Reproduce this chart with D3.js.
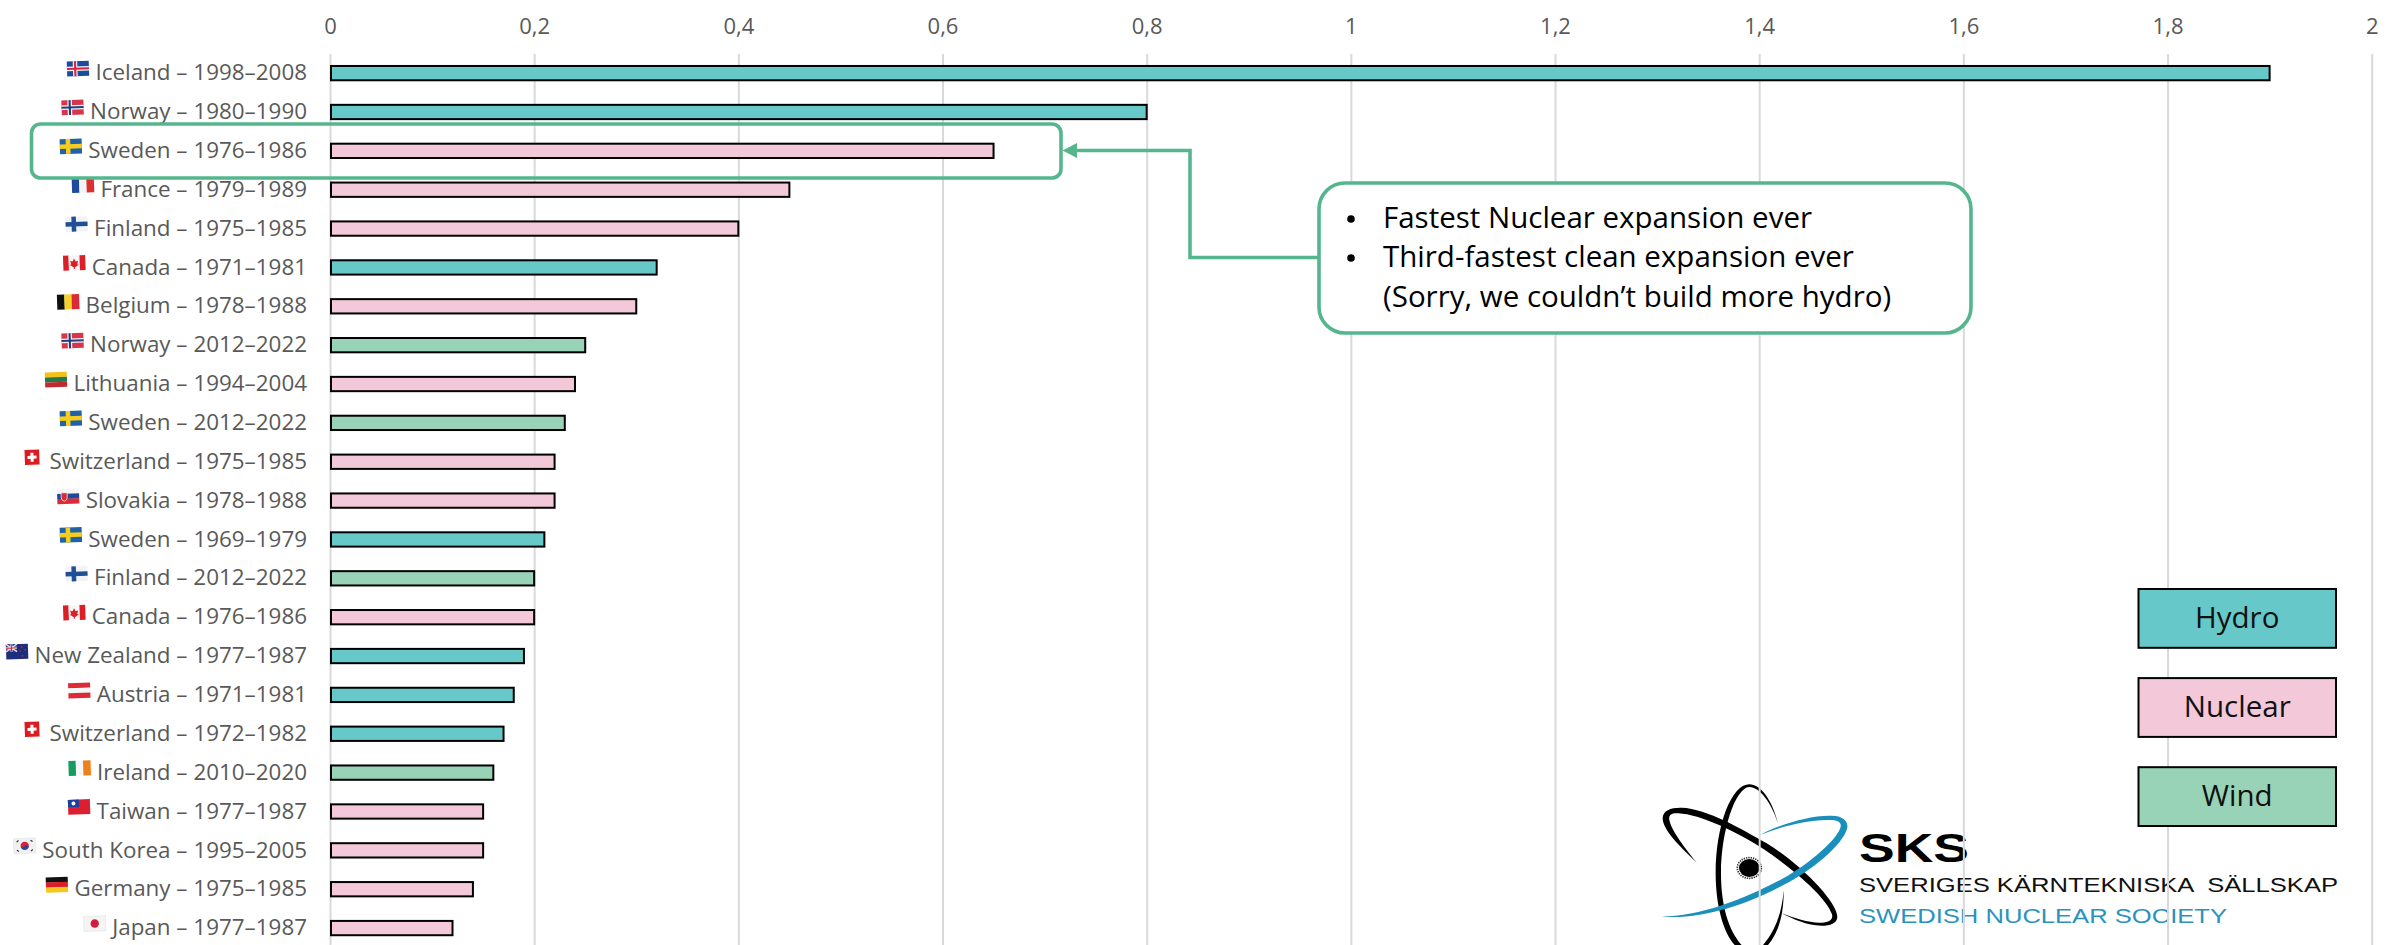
<!DOCTYPE html>
<html>
<head>
<meta charset="utf-8">
<script src="https://cdn.jsdelivr.net/npm/d3@7/dist/d3.min.js"></script>
<style>
  html, body { margin: 0; padding: 0; background: #fff; }
  svg { display: block; }
</style>
</head>
<body>
<div id="container"></div>
<script>
/* CONSTANTS AND DATA */
const countries = ["Iceland", "Norway", "Sweden", "France", "Finland", "Canada", "Belgium", "Norway",
  "Lithuania", "Sweden", "Switzerland", "Slovakia", "Sweden", "Finland", "Canada", "New Zealand",
  "Austria", "Switzerland", "Ireland", "Taiwan", "South Korea", "Germany", "Japan"];
const periods = ["1998–2008", "1980–1990", "1976–1986", "1979–1989", "1975–1985", "1971–1981", "1978–1988", "2012–2022",
  "1994–2004", "2012–2022", "1975–1985", "1978–1988", "1969–1979", "2012–2022", "1976–1986", "1977–1987",
  "1971–1981", "1972–1982", "2010–2020", "1977–1987", "1995–2005", "1975–1985", "1977–1987"];
const sources = ["Hydro", "Hydro", "Nuclear", "Nuclear", "Nuclear", "Hydro", "Nuclear", "Wind",
  "Nuclear", "Wind", "Nuclear", "Nuclear", "Hydro", "Wind", "Nuclear", "Hydro",
  "Hydro", "Hydro", "Wind", "Nuclear", "Nuclear", "Nuclear", "Nuclear"];
const values = [1.9, 0.8, 0.65, 0.45, 0.4, 0.32, 0.3, 0.25, 0.24, 0.23, 0.22, 0.22, 0.21, 0.2, 0.2, 0.19,
  0.18, 0.17, 0.16, 0.15, 0.15, 0.14, 0.12];
const xTicks = [0, 0.2, 0.4, 0.6, 0.8, 1, 1.2, 1.4, 1.6, 1.8, 2];
const legendNames = ["Hydro", "Nuclear", "Wind"];
const calloutLines = ["Fastest Nuclear expansion ever", "Third-fastest clean expansion ever", "(Sorry, we couldn’t build more hydro)"];

const W = 2405, H = 945;
const uiFont = "'Open Sans', sans-serif";
const logoFont = "'Liberation Sans', Arial, sans-serif";
const colors = { Hydro: "#66c8c8", Nuclear: "#f3c8d8", Wind: "#98d3b7" };
const accent = "#55b68d";

const rows = countries.map((c, i) => ({ key: i, country: c, period: periods[i], source: sources[i], value: values[i] }));

const svg = d3.select("#container").append("svg")
  .attr("width", W).attr("height", H)
  .style("background-color", "#fff");

// SCALES
const xScale = d3.scaleLinear().domain([0, 2]).range([330, 2371.7]);
const yScale = d3.scaleBand().domain(rows.map(d => d.key)).range([53.7, 947.5])
  .paddingInner(0.632).paddingOuter(0.316);

// LOGO (sits under the grid, the gridlines run across it in the picture)
const logo = svg.append("g").attr("class", "logo");
const mark = logo.append("g").attr("transform", "translate(1650,775) scale(0.3333)");
mark.append("path").attr("fill", "#000").attr("d",
  "M384,145 C365,70 330,28 298,28 C245,28 197,150 197,295 C197,400 225,490 265,520 L285,520 C240,480 213,400 213,295 C213,170 255,38 298,36 C330,36 365,85 384,145Z");
mark.append("path").attr("fill", "#000").attr("d",
  "M401,345 C396,420 370,480 330,520 L345,520 C385,480 402,420 401,345Z");
mark.append("path").attr("fill", "#000").attr("d",
  "M140,263 C90,215 38,165 38,130 C38,105 65,97 95,98 C170,100 280,165 350,205 C450,265 562,380 562,425 C562,445 540,452 515,452 C470,452 430,432 395,415 C435,430 480,445 515,443 C540,442 550,432 546,418 C530,370 440,290 345,225 C260,170 150,118 85,115 C65,113 55,120 58,135 C65,170 110,225 140,263Z");
mark.append("path").attr("fill", "#1a8fbc").attr("d",
  "M35,425 C150,425 290,370 400,310 C480,265 565,190 572,155 C575,140 560,135 540,135 C480,132 390,155 330,180 C390,148 480,120 545,122 C580,122 595,140 592,158 C580,210 480,290 400,330 C290,390 150,435 35,425Z");
mark.append("ellipse").attr("cx", 298).attr("cy", 279).attr("rx", 31).attr("ry", 27).attr("fill", "#000");
mark.append("ellipse").attr("cx", 298).attr("cy", 279).attr("rx", 36).attr("ry", 31)
  .attr("fill", "none").attr("stroke", "#333").attr("stroke-width", 5).attr("stroke-dasharray", "4 3");

logo.append("text").attr("x", 1859).attr("y", 862).attr("font-family", logoFont).attr("font-weight", 700)
  .attr("font-size", 40).attr("textLength", 110).attr("lengthAdjust", "spacingAndGlyphs").attr("fill", "#000").text("SKS");
logo.append("text").attr("x", 1859).attr("y", 892).attr("font-family", logoFont)
  .attr("font-size", 20).attr("textLength", 479).attr("lengthAdjust", "spacingAndGlyphs").attr("xml:space", "preserve").attr("fill", "#111")
  .text("SVERIGES KÄRNTEKNISKA  SÄLLSKAP");
logo.append("text").attr("x", 1859).attr("y", 923).attr("font-family", logoFont)
  .attr("font-size", 20).attr("textLength", 368).attr("lengthAdjust", "spacingAndGlyphs").attr("fill", "#2a93bd").text("SWEDISH NUCLEAR SOCIETY");

// AXES
const xAxis = svg.append("g").attr("class", "x-axis")
  .attr("transform", "translate(0,54)")
  .call(d3.axisTop(xScale).tickValues(xTicks).tickSize(-891).tickPadding(20)
    .tickFormat(d => String(d).replace(".", ",")));
xAxis.select(".domain").remove();
xAxis.selectAll("line").attr("stroke", "#d9d9d9").attr("stroke-width", 2);
xAxis.selectAll("text").attr("font-family", uiFont).attr("font-size", 22).attr("fill", "#595959");

const yAxis = svg.append("g").attr("class", "y-axis")
  .attr("transform", "translate(307,0)")
  .call(d3.axisLeft(yScale).tickSize(0).tickPadding(0)
    .tickFormat(i => `${countries[i]} – ${periods[i]}`));
yAxis.select(".domain").remove();
yAxis.selectAll("text").attr("font-family", uiFont).attr("font-size", 22.4).attr("fill", "#595959");

// BARS
svg.append("g").attr("class", "bars").selectAll("rect")
  .data(rows)
  .join("rect")
  .attr("x", xScale(0) + 1)
  .attr("y", d => yScale(d.key))
  .attr("width", d => xScale(d.value) - xScale(0) - 1)
  .attr("height", yScale.bandwidth())
  .attr("fill", d => colors[d.source])
  .attr("stroke", "#000")
  .attr("stroke-width", 2);

// FLAGS
function hStripes(g, cols, w = 22, h = 15) {
  cols.forEach((c, i) => g.append("rect").attr("y", i * h / cols.length).attr("width", w).attr("height", h / cols.length + 0.2).attr("fill", c));
}
function vStripes(g, cols, w = 22, h = 15) {
  cols.forEach((c, i) => g.append("rect").attr("x", i * w / cols.length).attr("width", w / cols.length + 0.2).attr("height", h).attr("fill", c));
}
function nordic(g, bg, outer, inner) {
  g.append("rect").attr("width", 22).attr("height", 15).attr("fill", bg);
  g.append("rect").attr("x", 6).attr("width", 4.5).attr("height", 15).attr("fill", outer);
  g.append("rect").attr("y", 5.2).attr("width", 22).attr("height", 4.5).attr("fill", outer);
  if (inner) {
    g.append("rect").attr("x", 7.2).attr("width", 2.1).attr("height", 15).attr("fill", inner);
    g.append("rect").attr("y", 6.4).attr("width", 22).attr("height", 2.1).attr("fill", inner);
  }
}
function disc(g, cx, cy, r, col) {
  g.append("circle").attr("cx", cx).attr("cy", cy).attr("r", r).attr("fill", col);
}
const flagDraw = {
  "Iceland": g => nordic(g, "#1c4a9c", "#f4f4f4", "#d8233a"),
  "Norway": g => nordic(g, "#d8344a", "#f4f4f4", "#1f3f7f"),
  "Sweden": g => nordic(g, "#1f62a8", "#f6cc1e"),
  "Finland": g => { nordic(g, "#f1f3f5", "#1f4f96"); },
  "France": g => vStripes(g, ["#1f4b9c", "#f4f4f4", "#dc3030"]),
  "Canada": g => {
    vStripes(g, ["#dc1f26", "#f6f6f6", "#f6f6f6", "#dc1f26"]);
    g.append("path").attr("fill", "#dc1f26").attr("d", "M11,3 L12.5,6 L15,5.5 L14,9 L15.5,9.5 L11.5,12 L11.5,13.5 L10.5,13.5 L10.5,12 L6.5,9.5 L8,9 L7,5.5 L9.5,6Z");
  },
  "Belgium": g => vStripes(g, ["#111", "#f6d32b", "#dc2a36"]),
  "Lithuania": g => hStripes(g, ["#f2c21c", "#1f7a4c", "#bf2a30"]),
  "Switzerland": g => {
    g.append("rect").attr("x", 3.7).attr("width", 14.6).attr("height", 15).attr("fill", "#dc1a20");
    g.append("rect").attr("x", 9.5).attr("y", 3).attr("width", 3).attr("height", 9).attr("fill", "#fff");
    g.append("rect").attr("x", 6.5).attr("y", 6).attr("width", 9).attr("height", 3).attr("fill", "#fff");
  },
  "Slovakia": g => {
    hStripes(g, ["#f4f4f4", "#1f4a9c", "#dc2a36"]);
    g.append("path").attr("fill", "#dc2a36").attr("stroke", "#fff").attr("stroke-width", 0.7).attr("d", "M4,4 H10 V9 Q10,11.5 7,12.5 Q4,11.5 4,9Z");
  },
  "New Zealand": g => {
    g.append("rect").attr("width", 22).attr("height", 15).attr("fill", "#1c2f7c");
    g.append("rect").attr("width", 11).attr("height", 7.5).attr("fill", "#2c3f8c");
    g.append("path").attr("stroke", "#f2d8dc").attr("stroke-width", 1.4).attr("d", "M0,0 L11,7.5 M11,0 L0,7.5");
    g.append("path").attr("stroke", "#f2f2f2").attr("stroke-width", 2).attr("d", "M5.5,0 V7.5 M0,3.75 H11");
    g.append("path").attr("stroke", "#d8233a").attr("stroke-width", 1).attr("d", "M5.5,0 V7.5 M0,3.75 H11");
    [[16, 3], [19, 6], [14, 7], [16, 12]].forEach(p => disc(g, p[0], p[1], 0.8, "#d8233a"));
  },
  "Austria": g => hStripes(g, ["#dc2a36", "#f6f6f6", "#dc2a36"]),
  "Ireland": g => vStripes(g, ["#169b62", "#f6f6f6", "#ee7f1c"]),
  "Taiwan": g => {
    g.append("rect").attr("width", 22).attr("height", 15).attr("fill", "#dc1f30");
    g.append("rect").attr("width", 11).attr("height", 7.5).attr("fill", "#1f3f9c");
    disc(g, 5.5, 3.75, 2, "#f6f6f6");
  },
  "South Korea": g => {
    g.append("rect").attr("width", 22).attr("height", 15).attr("fill", "#f1f1f1").attr("stroke", "#ddd").attr("stroke-width", 0.5);
    disc(g, 11, 7.5, 4.2, "#d8233a");
    g.append("path").attr("fill", "#1f4a9c").attr("d", "M7,8.2 A4.2,4.2 0 0 0 15,8.2 Q13,6 11,8 Q9,10 7,8.2Z");
    g.append("path").attr("stroke", "#333").attr("stroke-width", 1.2).attr("d", "M3,3.5 L5,2 M17,2 L19,3.5 M3,11.5 L5,13 M17,13 L19,11.5");
  },
  "Germany": g => hStripes(g, ["#111", "#dc1f26", "#f6c81e"]),
  "Japan": g => {
    g.append("rect").attr("width", 22).attr("height", 15).attr("fill", "#f4f4f4").attr("stroke", "#ddd").attr("stroke-width", 0.5);
    disc(g, 11, 7.5, 4.2, "#cc1f3c");
  }
};
yAxis.selectAll(".tick").each(function (i) {
  const t = d3.select(this).select("text");
  const len = t.node().getComputedTextLength();
  const g = d3.select(this).append("g").attr("class", "flag")
    .attr("transform", `translate(${-len - 6.5 - 22},-12) rotate(-2 11 7.5)`);
  flagDraw[countries[i]](g);
});

// HIGHLIGHT BOX AND CONNECTOR
const notes = svg.append("g").attr("class", "notes");
notes.append("rect").attr("x", 31.5).attr("y", 124).attr("width", 1029.5).attr("height", 54).attr("rx", 9)
  .attr("fill", "none").attr("stroke", accent).attr("stroke-width", 3.6);
notes.append("path").attr("fill", "none").attr("stroke", accent).attr("stroke-width", 3.6)
  .attr("d", "M1319,257.5 H1190 V150.5 H1072");
notes.append("path").attr("fill", accent).attr("d", "M1062.5,150.5 L1077,143 V158Z");

// CALLOUT
notes.append("rect").attr("x", 1319).attr("y", 183).attr("width", 652).attr("height", 150).attr("rx", 26)
  .attr("fill", "#fff").attr("stroke", accent).attr("stroke-width", 3.6);
const baselines = [228, 267, 306.5];
notes.selectAll("text.call").data(calloutLines).join("text").attr("class", "call")
  .attr("x", 1383).attr("y", (d, i) => baselines[i])
  .attr("font-family", uiFont).attr("font-size", 29.5).attr("fill", "#000")
  .text(d => d);
notes.selectAll("circle").data([0, 1]).join("circle")
  .attr("cx", 1351).attr("cy", i => baselines[i] - 9).attr("r", 3.8).attr("fill", "#000");

// LEGEND
const legendY = d3.scaleBand().domain(legendNames).range([589, 826]).paddingInner(0.34).paddingOuter(0);
const legend = svg.append("g").attr("class", "legend").selectAll("g").data(legendNames).join("g")
  .attr("transform", d => `translate(2138.5,${legendY(d)})`);
legend.append("rect").attr("width", 197.5).attr("height", legendY.bandwidth())
  .attr("fill", d => colors[d]).attr("stroke", "#000").attr("stroke-width", 2);
legend.append("text").attr("x", 98.75).attr("y", 39).attr("text-anchor", "middle")
  .attr("font-family", uiFont).attr("font-size", 29.5).attr("fill", "#111").text(d => d);
</script>
</body>
</html>
